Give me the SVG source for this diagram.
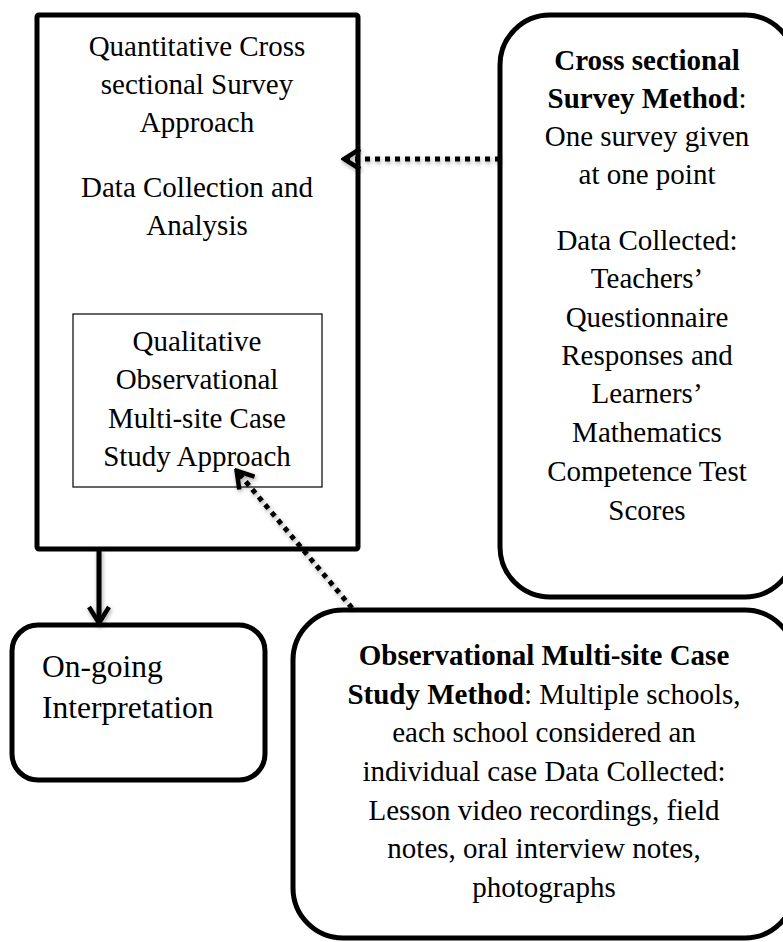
<svg xmlns="http://www.w3.org/2000/svg" width="783" height="942" viewBox="0 0 783 942">
<defs>
<style>
text{font-family:"Liberation Serif","Times New Roman",serif;font-size:29px;fill:#000;text-anchor:middle}
.b{font-weight:bold}
.box{fill:#fff;stroke:#000;stroke-width:5}
.thin{fill:#fff;stroke:#000;stroke-width:1.2}
.dot{fill:none;stroke:#000;stroke-width:5;stroke-dasharray:5 5}
.solid{fill:none;stroke:#000;stroke-width:5}
</style>
<marker id="ah" viewBox="-22 -12 24 24" markerWidth="24" markerHeight="24" refX="0" refY="0" orient="auto" markerUnits="userSpaceOnUse">
<path d="M-17,-10 L-1,0 L-17,10" fill="none" stroke="#000" stroke-width="4.5" stroke-linejoin="miter"/>
</marker>
<filter id="sh" x="-20%" y="-20%" width="140%" height="140%">
<feDropShadow dx="1" dy="2" stdDeviation="2" flood-color="#000" flood-opacity="0.35"/>
</filter>
</defs>

<g id="main">
<rect class="box" x="37" y="15" width="321" height="534" rx="2"/>
<text x="197" y="56">Quantitative Cross</text>
<text x="197" y="94">sectional Survey</text>
<text x="197" y="132">Approach</text>
<text x="197" y="197">Data Collection and</text>
<text x="197" y="235">Analysis</text>
</g>

<g id="qualitative">
<rect class="thin" x="73" y="314" width="249" height="173"/>
<text x="197" y="351">Qualitative</text>
<text x="197" y="389">Observational</text>
<text x="197" y="428">Multi-site Case</text>
<text x="197" y="466">Study Approach</text>
</g>

<g id="cross-sectional">
<rect class="box" x="500" y="15" width="295" height="582" rx="50"/>
<text x="647" y="70" class="b">Cross sectional</text>
<text x="647" y="108"><tspan class="b">Survey Method</tspan>:</text>
<text x="647" y="146">One survey given</text>
<text x="647" y="184">at one point</text>
<text x="647" y="250">Data Collected:</text>
<text x="647" y="288">Teachers’</text>
<text x="647" y="327">Questionnaire</text>
<text x="647" y="365">Responses and</text>
<text x="647" y="403">Learners’</text>
<text x="647" y="442">Mathematics</text>
<text x="647" y="481">Competence Test</text>
<text x="647" y="520">Scores</text>
</g>

<g id="ongoing">
<rect class="box" x="12" y="625" width="253" height="155" rx="26"/>
<text x="42" y="677" style="text-anchor:start;font-size:31.5px">On-going</text>
<text x="42" y="718" style="text-anchor:start;font-size:31.5px">Interpretation</text>
</g>

<g id="observational">
<rect class="box" x="293" y="610" width="502" height="328" rx="50"/>
<text x="544" y="665" class="b">Observational Multi-site Case</text>
<text x="544" y="704"><tspan class="b">Study Method</tspan>: Multiple schools,</text>
<text x="544" y="742">each school considered an</text>
<text x="544" y="781">individual case Data Collected:</text>
<text x="544" y="820">Lesson video recordings, field</text>
<text x="544" y="858">notes, oral interview notes,</text>
<text x="544" y="897">photographs</text>
</g>

<g id="connectors" filter="url(#sh)">
<path class="dot" d="M500,159 L343,159" marker-end="url(#ah)"/>
<path class="dot" d="M352,608 L236,470" marker-end="url(#ah)"/>
<path class="solid" d="M99,549 L99,624" marker-end="url(#ah)"/>
</g>
</svg>
